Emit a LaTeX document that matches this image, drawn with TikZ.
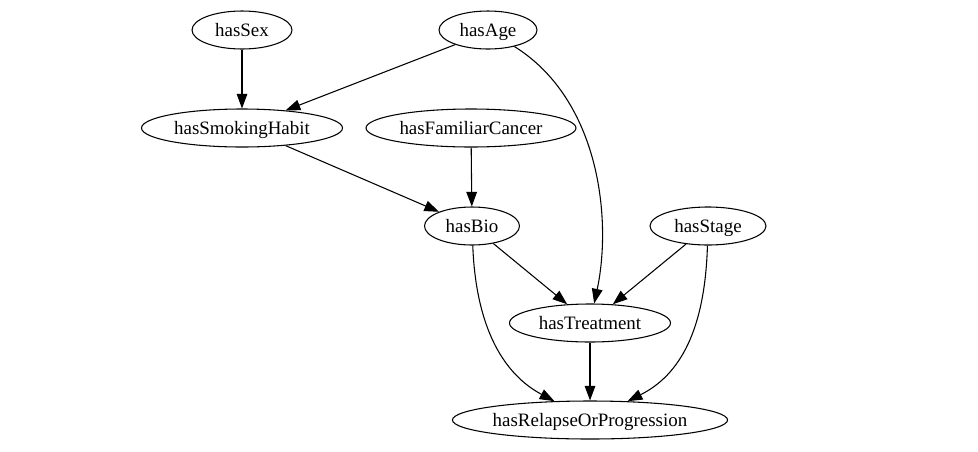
\documentclass[tikz,border=0pt]{standalone}
\usepackage{fontspec}
\setmainfont{Liberation Serif}
\usetikzlibrary{arrows.meta, shapes.geometric}

\begin{document}
\begin{tikzpicture}[x=0.75pt, y=-0.75pt,
  >={Triangle[length=11pt, width=8pt]},
  var/.style={draw, ellipse, line width=0.8pt, inner sep=0pt,
    minimum height=28.5pt, text height=11.5pt, text depth=1.5pt,
    font=\fontsize{14.2}{16}\selectfont},
  edge/.style={->, line width=0.8pt}]

% Frame
\useasboundingbox (0,0) rectangle (978,451);

% Variables
\node[var, minimum width=75pt]    (sex)       at (242,30)  {hasSex};
\node[var, minimum width=73.5pt]  (age)       at (488,30)  {hasAge};
\node[var, minimum width=150.75pt] (smoking)  at (242,128) {hasSmokingHabit};
\node[var, minimum width=157.5pt] (familiar)  at (471,128) {hasFamiliarCancer};
\node[var, minimum width=71.25pt] (bio)       at (472,226) {hasBio};
\node[var, minimum width=87pt]    (stage)     at (708,226) {hasStage};
\node[var, minimum width=120.75pt] (treatment) at (590,323) {hasTreatment};
\node[var, minimum width=205.5pt] (relapse)   at (590,420) {hasRelapseOrProgression};

% Straight dependencies
\draw[edge] (sex) -- (smoking);
\draw[edge] (age.204) -- (smoking.22);
\draw[edge] (smoking.-22) -- (bio);
\draw[edge] (familiar) -- (bio);
\draw[edge] (bio) -- (treatment);
\draw[edge] (stage) -- (treatment);
\draw[edge] (treatment) -- (relapse);

% Curved dependencies
\draw[edge] (age) .. controls (600,100) and (612,220) .. (treatment);
\draw[edge] (bio) .. controls (476,330) and (505,375) .. (relapse);
\draw[edge] (stage) .. controls (705,330) and (680,375) .. (relapse);

\end{tikzpicture}
\end{document}
